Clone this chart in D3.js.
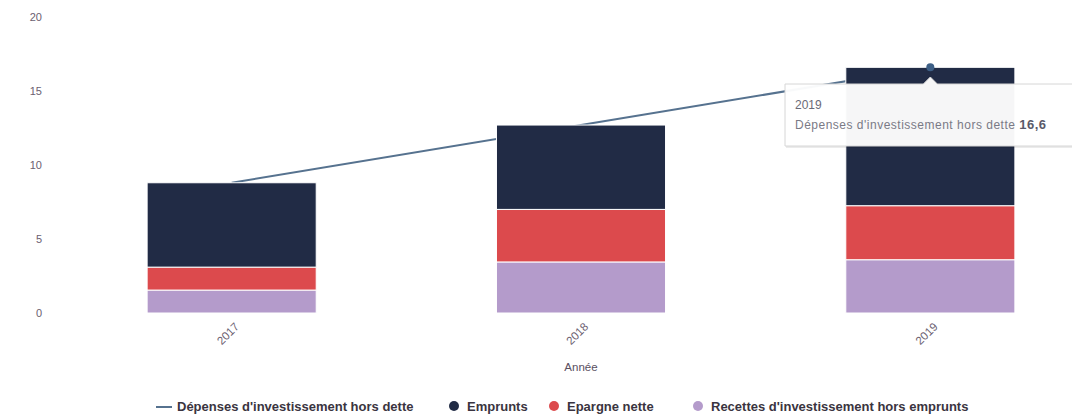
<!DOCTYPE html>
<html lang="fr">
<head>
<meta charset="utf-8">
<script src="https://cdn.jsdelivr.net/npm/d3@7"></script>
<style>
  html, body { margin: 0; padding: 0; background: #fff; }
  svg { display: block; font-family: "Liberation Sans", Arial, sans-serif; }
</style>
</head>
<body>
<svg id="chart" width="1072" height="419"></svg>
<script>
// Investment budget by year (millions)
const years = ["2017", "2018", "2019"];
const recettes = [1.55, 3.45, 3.6];   // Recettes d'investissement hors emprunts
const epargne  = [1.55, 3.55, 3.65];  // Epargne nette
const emprunts = [5.7, 5.7, 9.35];    // Emprunts
const depenses = [8.8, 12.7, 16.6];   // Dépenses d'investissement hors dette
const yTicks = [0, 5, 10, 15, 20];

const seriesNames = ["Recettes d'investissement hors emprunts", "Epargne nette", "Emprunts"];
const seriesColors = ["#b49bcb", "#dc4a4d", "#212b45"];
const lineName = "Dépenses d'investissement hors dette";
const lineColor = "#56728f";

const svg = d3.select("#chart");

const x = d3.scaleBand().domain(years).range([57, 1105]).paddingInner(0.516).paddingOuter(0.258);
const y = d3.scaleLinear().domain([0, 20]).range([313, 17]);

// y axis labels
const yAxis = svg.append("g").attr("transform", "translate(46,0)")
  .call(d3.axisLeft(y).tickValues(yTicks).tickSize(0).tickPadding(4));
yAxis.select(".domain").remove();
yAxis.selectAll("text").attr("fill", "#6b6070").attr("font-size", 11);

// total spending line (drawn beneath the bars)
const line = d3.line().x((d, i) => x(years[i]) + x.bandwidth() / 2).y(d => y(d));
svg.append("path").datum(depenses)
  .attr("d", line).attr("fill", "none")
  .attr("stroke", lineColor).attr("stroke-width", 2);

// stacked bars
const rows = years.map((yr, i) => ({ year: yr, s0: recettes[i], s1: epargne[i], s2: emprunts[i] }));
const stack = d3.stack().keys(["s0", "s1", "s2"])(rows);

svg.append("g").selectAll("g").data(stack).join("g")
  .attr("fill", (d, i) => seriesColors[i])
  .selectAll("rect").data(d => d).join("rect")
  .attr("x", d => x(d.data.year))
  .attr("width", x.bandwidth())
  .attr("y", d => y(d[1]))
  .attr("height", d => y(d[0]) - y(d[1]))
  .attr("stroke", "#fff").attr("stroke-width", 1);

// hovered point
const hi = 2;
const px = x(years[hi]) + x.bandwidth() / 2, py = y(depenses[hi]);
svg.append("circle").attr("cx", px).attr("cy", py).attr("r", 4).attr("fill", "#3d5f86");

// x axis
const xAxis = svg.append("g").attr("transform", "translate(0,316)")
  .call(d3.axisBottom(x).tickSize(0).tickPadding(8));
xAxis.select(".domain").remove();
xAxis.selectAll("text")
  .attr("fill", "#6b6070").attr("font-size", 11.5)
  .attr("text-anchor", "end")
  .attr("transform", "rotate(-45)")
  .attr("dx", "-0.2em").attr("dy", "0.5em");

svg.append("text").attr("x", 581).attr("y", 371).attr("text-anchor", "middle")
  .attr("font-size", 11.5).attr("fill", "#5a4f5f").text("Année");

// legend
const legend = svg.append("g").attr("font-size", 13).attr("font-weight", "bold").attr("fill", "#3a3440");
const items = [
  { name: lineName, color: lineColor, type: "line", x: 156 },
  { name: seriesNames[2], color: seriesColors[2], type: "dot", x: 446 },
  { name: seriesNames[1], color: seriesColors[1], type: "dot", x: 546 },
  { name: seriesNames[0], color: seriesColors[0], type: "dot", x: 690 }
];
items.forEach(it => {
  const g = legend.append("g").attr("transform", `translate(${it.x},407)`);
  if (it.type === "line") {
    g.append("line").attr("x1", 0).attr("x2", 16).attr("y1", 0).attr("y2", 0)
      .attr("stroke", it.color).attr("stroke-width", 2);
  } else {
    g.append("circle").attr("cx", 8).attr("cy", -1).attr("r", 5).attr("fill", it.color);
  }
  g.append("text").attr("x", 21).attr("y", 4).text(it.name);
});

// tooltip
const tip = svg.append("g");
const bx = 785, by = 84, bw = 300, bh = 62;
const tipPath = `M${bx},${by} H${px - 7} L${px},${by - 7} L${px + 7},${by} H${bx + bw} V${by + bh} H${bx} Z`;
tip.append("path").attr("d", tipPath).attr("transform", "translate(1,2)")
  .attr("fill", "rgba(0,0,0,0.08)");
tip.append("path").attr("d", tipPath)
  .attr("fill", "rgba(255,255,255,0.96)").attr("stroke", "#d6d6d6").attr("stroke-width", 1);
tip.append("text").attr("x", bx + 10).attr("y", by + 25).attr("font-size", 12)
  .attr("fill", "#6a6a78").text(years[hi]);
const t2 = tip.append("text").attr("x", bx + 10).attr("y", by + 45).attr("font-size", 12)
  .attr("letter-spacing", 0.5).attr("fill", "#7a7a86");
t2.append("tspan").text(lineName + " ");
t2.append("tspan").attr("font-weight", "bold").attr("font-size", 13).attr("fill", "#5a5a6a")
  .text(d3.format(".1f")(depenses[hi]).replace(".", ","));
</script>
</body>
</html>
